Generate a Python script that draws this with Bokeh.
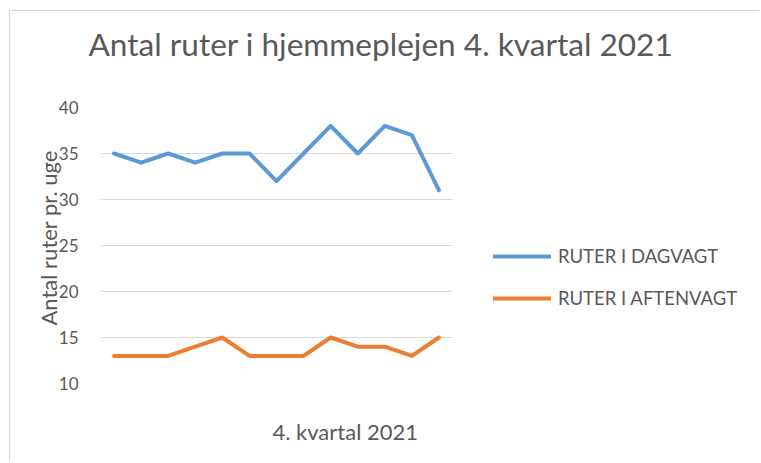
from bokeh.plotting import figure
from bokeh.models import Legend, LegendItem, Title, FixedTicker, Range1d, InlineStyleSheet
from bokeh.embed import file_html
from bokeh.resources import INLINE

weeks = list(range(1, 14))
dagvagt = [35, 34, 35, 34, 35, 35, 32, 35, 38, 35, 38, 37, 31]
aftenvagt = [13, 13, 13, 14, 15, 13, 13, 13, 15, 14, 14, 13, 15]
y_ticks = [10, 15, 20, 25, 30, 35, 40]
title_text = "Antal ruter i hjemmeplejen 4. kvartal 2021"
y_label = "Antal ruter pr. uge"
x_label = "4. kvartal 2021"
names = ["RUTER I DAGVAGT", "RUTER I AFTENVAGT"]

FONT = "Lato"
GRAY = "#595959"

# plot area: 352 px for the 13 weeks, plus 293 px of room on the right for the legend
PLOT_W, EXTRA_W = 352, 293
x0, x1 = 0.5, len(weeks) + 0.5
x_end = x1 + EXTRA_W * (x1 - x0) / PLOT_W

p = figure(frame_width=PLOT_W + EXTRA_W, frame_height=276, output_backend="svg", toolbar_location=None,
           x_range=Range1d(x0, x_end), y_range=Range1d(10, 40), title=None,
           min_border_left=100, min_border_right=0, min_border_top=107, min_border_bottom=64)
p.outline_line_color = None
p.background_fill_color = "white"
p.border_fill_color = "white"
p.stylesheets = [InlineStyleSheet(css=(
    ":host { position: relative; }"
    ":host::after { content: ''; position: absolute; left: 9px; top: 10px; right: -14px; bottom: -14px;"
    " border-left: 1.5px solid #d9d9d9; border-top: 1.5px solid #d9d9d9; pointer-events: none; }"
))]

p.xaxis.visible = False
p.xgrid.visible = False
p.yaxis.ticker = FixedTicker(ticks=y_ticks)
p.yaxis.axis_line_color = None
p.yaxis.major_tick_line_color = None
p.yaxis.minor_tick_line_color = None
p.yaxis.major_tick_out = 0
p.yaxis.major_tick_in = 0
p.yaxis.major_label_standoff = 22
p.yaxis.major_label_text_font = FONT
p.yaxis.major_label_text_font_size = "17px"
p.yaxis.major_label_text_color = GRAY
p.ygrid.ticker = FixedTicker(ticks=y_ticks)
p.ygrid.grid_line_color = "#d9d9d9"
p.ygrid.grid_line_width = 1
p.ygrid.cross_bounds = (x0, x1)

r1 = p.line(weeks, dagvagt, line_color="#5B9BD5", line_width=4, line_join="round", line_cap="round")
r2 = p.line(weeks, aftenvagt, line_color="#ED7D31", line_width=4, line_join="round", line_cap="round")

# spacers (closest to the frame first)
p.add_layout(Title(text=" ", text_font_size="1px", standoff=42), "above")
p.add_layout(Title(text=title_text, align="left", offset=-12, standoff=0,
                   text_font=FONT, text_font_size="31.6px", text_color=GRAY,
                   text_font_style="normal"), "above")
p.add_layout(Title(text=" ", text_font_size="1px", standoff=27), "below")
p.add_layout(Title(text=x_label, align="left", offset=172, standoff=5,
                   text_font=FONT, text_font_size="22px", text_color=GRAY,
                   text_font_style="normal"), "below")
p.add_layout(Title(text=y_label, align="left", offset=58, standoff=-12,
                   text_font=FONT, text_font_size="22px", text_color=GRAY,
                   text_font_style="normal"), "left")

legend = Legend(items=[LegendItem(label=names[0], renderers=[r1]),
                       LegendItem(label=names[1], renderers=[r2])],
                location=(393, 74))
legend.padding = 0
legend.margin = 0
legend.border_line_color = None
legend.background_fill_alpha = 0
legend.glyph_width = 58
legend.glyph_height = 20
legend.label_height = 20
legend.spacing = 20
legend.label_standoff = 7
legend.label_text_font = FONT
legend.label_text_font_size = "18.5px"
legend.label_text_color = GRAY
p.add_layout(legend)

open("out.html", "w").write(file_html(p, INLINE))
